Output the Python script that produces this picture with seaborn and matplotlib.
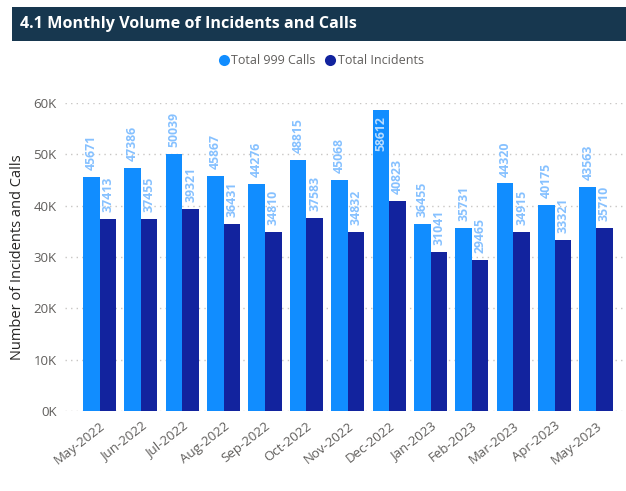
import matplotlib
matplotlib.use("Agg")
import matplotlib.pyplot as plt
from matplotlib.patches import Rectangle
from matplotlib.lines import Line2D
import seaborn as sns
import pandas as pd

months = ["May-2022", "Jun-2022", "Jul-2022", "Aug-2022", "Sep-2022", "Oct-2022", "Nov-2022",
          "Dec-2022", "Jan-2023", "Feb-2023", "Mar-2023", "Apr-2023", "May-2023"]
calls = [45671, 47386, 50039, 45867, 44276, 48815, 45068, 58612, 36455, 35731, 44320, 40175, 43563]
incidents = [37413, 37455, 39321, 36431, 34810, 37583, 34832, 40823, 31041, 29465, 34915, 33321, 35710]
series = ["Total 999 Calls", "Total Incidents"]
yticks = [0, 10000, 20000, 30000, 40000, 50000, 60000]

colors = {"Total 999 Calls": "#118DFF", "Total Incidents": "#12239E"}

df = pd.DataFrame({
    "Month": months * 2,
    "Series": [series[0]] * len(months) + [series[1]] * len(months),
    "Value": calls + incidents,
})

sns.set_theme(style="white")
plt.rcParams["font.family"] = ["Open Sans", "DejaVu Sans"]

W, H = 626, 491
fig = plt.figure(figsize=(W / 100, H / 100), dpi=100)
fig.patch.set_facecolor("white")

# header band
fig.patches.append(Rectangle((12 / W, 1 - 41 / H), 614 / W, 34 / H, transform=fig.transFigure,
                             facecolor="#17374F", edgecolor="none", zorder=0))
fig.text(20 / W, 1 - 24 / H, "4.1 Monthly Volume of Incidents and Calls", color="white",
         fontsize=11.6, fontweight="bold", va="center", ha="left")

ax = fig.add_axes([65 / W, 80 / H, 560 / W, 308 / H])
sns.barplot(data=df, x="Month", y="Value", hue="Series", palette=colors, order=months,
            hue_order=series, width=0.8, linewidth=0, saturation=1, ax=ax, legend=False)

ax.set_ylim(0, 60000)
ax.set_xlim(-0.834, 12.70)
ax.set_yticks(yticks)
ax.set_yticklabels([f"{int(v / 1000)}K" for v in yticks], fontsize=9.5, color="#605E5C")
ax.tick_params(axis="both", length=0, pad=6)
for t in ax.get_xticklabels():
    t.set_rotation(38)
    t.set_ha("right")
    t.set_rotation_mode("anchor")
    t.set_fontsize(9.5)
    t.set_color("#605E5C")
ax.set_xlabel("")
ax.set_ylabel("Number of Incidents and Calls", fontsize=10.5, color="#252423", labelpad=6)
for s in ax.spines.values():
    s.set_visible(False)
ax.grid(axis="y", color="#C8C6C4", linestyle=(0, (1, 3)), linewidth=1)
ax.set_axisbelow(True)

for cont in ax.containers:
    for bar in cont:
        h = bar.get_height()
        x = bar.get_x() + bar.get_width() / 2
        if h > 0.9 * 60000:
            ax.annotate(f"{int(h)}", (x, h), xytext=(0, -4), textcoords="offset points",
                        rotation=90, ha="center", va="top", fontsize=8.8, fontweight="bold",
                        color="#B8DCFF")
        else:
            ax.annotate(f"{int(h)}", (x, h), xytext=(0, 5), textcoords="offset points",
                        rotation=90, ha="center", va="bottom", fontsize=8.8, fontweight="bold",
                        color="#86C1FF", annotation_clip=False)

handles = [Line2D([], [], marker="o", linestyle="none", markersize=8,
                  markerfacecolor=colors[s], markeredgecolor="none") for s in series]
fig.legend(handles, series, loc="center", bbox_to_anchor=(320 / W, 1 - 61 / H), ncol=2,
           frameon=False, handletextpad=0.0, columnspacing=0.6, fontsize=9,
           labelcolor="#605E5C", handlelength=1.2)

fig.savefig("out.png", dpi=100)
